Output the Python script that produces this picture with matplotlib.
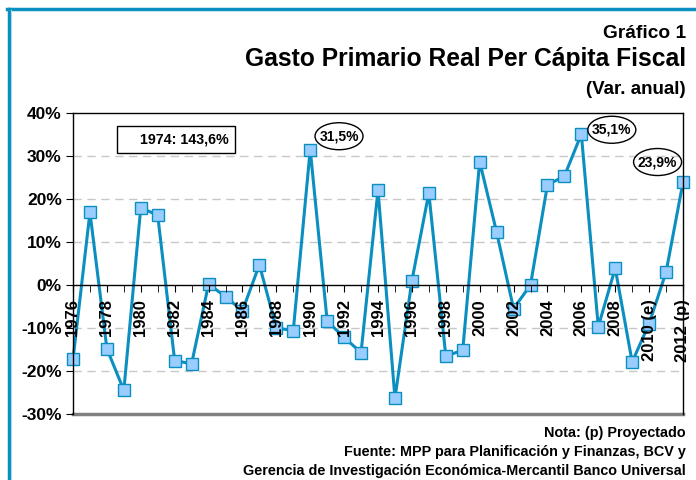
import matplotlib
matplotlib.use("Agg")
import matplotlib.pyplot as plt
from matplotlib.patches import Ellipse, Rectangle
from matplotlib.ticker import MultipleLocator, FuncFormatter

# Datos: variación anual del gasto primario real per cápita (%)
years = list(range(1976, 2013))
values = [-17.3, 16.9, -14.8, -24.5, 18.0, 16.2, -17.6, -18.3, 0.2, -2.7,
          -6.0, 4.7, -10.0, -10.6, 31.5, -8.4, -12.2, -15.7, 22.1, -26.3,
          1.0, 21.4, -16.5, -15.2, 28.7, 12.3, -5.5, 0.0, 23.3, 25.3,
          35.1, -9.7, 3.9, -17.9, -9.0, 3.0, 23.9]
tick_years = list(range(1976, 2013, 2))
tick_labels = [str(y) for y in tick_years[:-2]] + ["2010 (e)", "2012 (p)"]
grid_levels = [30, 20, 10, -10, -20]

callouts = [("31,5%", 1991.7, 34.6), ("35,1%", 2007.8, 36.1), ("23,9%", 2010.5, 28.6)]

line_color = "#0A8FC0"
marker_fill = "#99CCFF"
sans = ["Liberation Sans", "DejaVu Sans"]

fig = plt.figure(figsize=(6.96, 4.80), dpi=100)
ax = fig.add_axes([73 / 696, 1 - 414 / 480, 610 / 696, 301 / 480])

for g in grid_levels:
    ax.axhline(g, color="#C8C8C8", lw=1, ls=(0, (6, 4)), zorder=1)
ax.axhline(-30, color="#808080", lw=2.5, zorder=1, clip_on=False)

ax.plot(years, values, color=line_color, lw=2.2, marker="s", ms=8.3,
        mfc=marker_fill, mec=line_color, mew=1, clip_on=False, zorder=2)

ax.set_xlim(1976, 2012)
ax.set_ylim(-30, 40)

ax.spines["bottom"].set_position(("data", 0))
for s in ["bottom", "left", "top", "right"]:
    ax.spines[s].set_linewidth(1)
ax.set_axisbelow(False)

ax.xaxis.set_major_locator(plt.FixedLocator(tick_years))
ax.xaxis.set_minor_locator(MultipleLocator(1))
ax.set_xticklabels(tick_labels, rotation=90, fontsize=12, fontweight="bold",
                   family=sans, va="top")
ax.tick_params(axis="x", which="both", direction="out", length=5, pad=5)

ax.yaxis.set_major_locator(MultipleLocator(10))
ax.yaxis.set_major_formatter(FuncFormatter(lambda v, p: f"{v:.0f}%"))
ax.tick_params(axis="y", direction="out", length=5, pad=3)
for lab in ax.get_yticklabels():
    lab.set_fontsize(12.5)
    lab.set_fontweight("bold")
    lab.set_family(sans)

# Recuadro y óvalos de anotación
ax.add_patch(Rectangle((1978.6, 30.7), 118 / 16.94, 27 / 4.3, fill=False,
                       ec="black", lw=1, zorder=4))
ax.text(1982.6, 33.9, "1974: 143,6%", ha="center", va="center", fontsize=10.3,
        fontweight="bold", family=sans, zorder=5)
for txt, x, y in callouts:
    ax.add_patch(Ellipse((x, y), 48 / 16.94, 27 / 4.3, fill=False, ec="black",
                         lw=1, zorder=4, clip_on=False))
    ax.text(x, y, txt, ha="center", va="center", fontsize=10, fontweight="bold",
            family=sans, zorder=5)

# Títulos
fig.text(686 / 696, 1 - 33 / 480, "Gráfico 1", ha="right", va="center",
         fontsize=13.8, fontweight="bold", family=sans)
fig.text(686 / 696, 1 - 59 / 480, "Gasto Primario Real Per Cápita Fiscal",
         ha="right", va="center", fontsize=17.7, fontweight="bold", family=sans)
fig.text(686 / 696, 1 - 90 / 480, "(Var. anual)", ha="right", va="center",
         fontsize=13.5, fontweight="bold", family=sans)

notes = ["Nota: (p) Proyectado",
         "Fuente: MPP para Planificación y Finanzas, BCV y",
         "Gerencia de Investigación Económica-Mercantil Banco Universal"]
for i, n in enumerate(notes):
    fig.text(686 / 696, 1 - (433 + 19 * i) / 480, n, ha="right", va="center",
             fontsize=10.35, fontweight="bold", family=sans)

# Marco azul
fig.add_artist(plt.Line2D([8.5 / 696, 8.5 / 696], [0, 1 - 8.5 / 480],
                          color=line_color, lw=2.5, transform=fig.transFigure))
fig.add_artist(plt.Line2D([7 / 696, 1], [1 - 8.5 / 480, 1 - 8.5 / 480],
                          color=line_color, lw=2.5, transform=fig.transFigure))
fig.add_artist(plt.Line2D([10.8 / 696, 10.8 / 696], [0, 1 - 10 / 480],
                          color="#A8D8EE", lw=0.8, transform=fig.transFigure))

fig.savefig("out.png", dpi=100)
